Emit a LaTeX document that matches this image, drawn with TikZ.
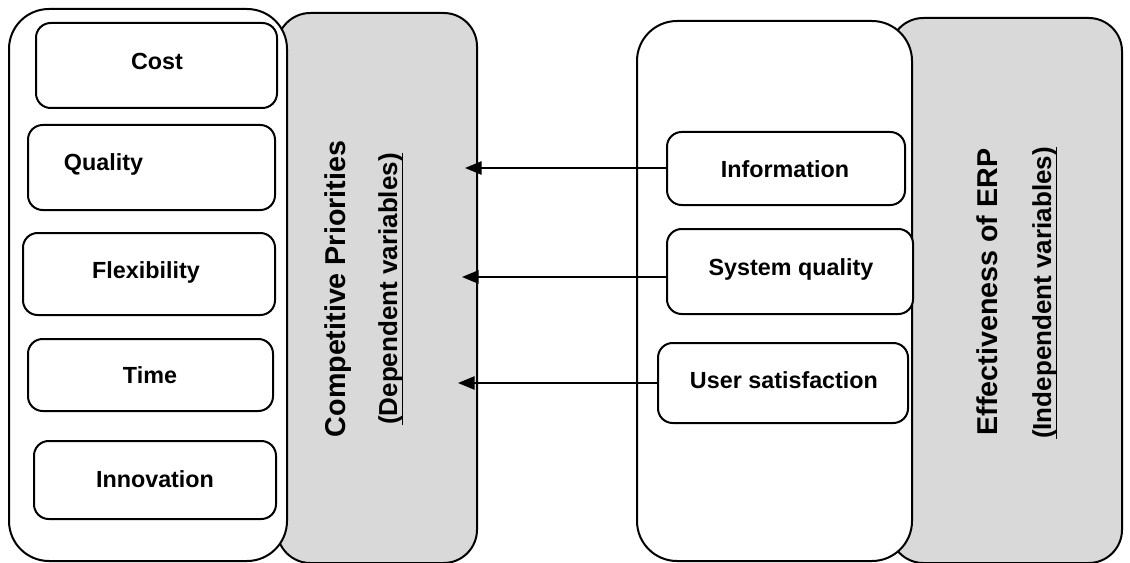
\documentclass[tikz,border=0pt]{standalone}
\usepackage{fontspec}
\setmainfont{Liberation Sans}
\usetikzlibrary{positioning, arrows.meta}
\definecolor{panelgray}{RGB}{217,217,217}

\begin{document}
\begin{tikzpicture}[x=0.75pt, y=-0.75pt,
  panel/.style={draw, line width=1.5pt, rounded corners=30pt, inner sep=0pt},
  item/.style={draw, fill=white, line width=1.5pt, rounded corners=11pt, inner sep=0pt},
  txt/.style={font=\fontsize{17.5}{20}\selectfont\bfseries, anchor=base, inner sep=0pt},
  head/.style={font=\fontsize{21.5}{25}\selectfont\bfseries, rotate=90, anchor=base, inner sep=0pt},
  subhead/.style={font=\fontsize{19.5}{23}\selectfont\bfseries, rotate=90, anchor=base, inner sep=0pt, outer sep=0pt},
  flow/.style={-{Triangle[length=12.5pt, width=10pt]}, line width=1.3pt}]

\useasboundingbox (0,0) rectangle (1130,563);

% grey panels sit behind the white ones
\node[panel, fill=panelgray, rounded corners=25pt, minimum width=150pt, minimum height=412.5pt] (depgray) at (377,288) {};
\node[panel, fill=panelgray, rounded corners=25pt, minimum width=174pt, minimum height=408.75pt] (indgray) at (1006,290.5) {};
\node[panel, fill=white, minimum width=208.5pt, minimum height=414pt] (deppanel) at (148,285) {};
\node[panel, fill=white, minimum width=206.25pt, minimum height=405pt] (indpanel) at (774.5,291) {};

% dependent variables
\node[item, minimum width=180.75pt, minimum height=63.75pt] (cost) at (156.5,65.5) {};
\node[item, minimum width=185.25pt, minimum height=63.75pt] (quality) at (151.5,167.5) {};
\node[item, minimum width=189pt, minimum height=61.5pt] (flex) at (149,274) {};
\node[item, minimum width=183.75pt, minimum height=54pt] (time) at (150.5,375) {};
\node[item, minimum width=181.5pt, minimum height=58.5pt] (innov) at (155,480) {};

\node[txt] (costtxt) at (157,70) {Cost};
\node[txt] (qualitytxt) at (103.5,171) {Quality};
\node[txt] (flextxt) at (146,278) {Flexibility};
\node[txt] (timetxt) at (150,383) {Time};
\node[txt] (innovtxt) at (155,487) {Innovation};

% independent variables
\node[item, minimum width=178.5pt, minimum height=54.75pt] (info) at (786,168.5) {};
\node[item, minimum width=184.5pt, minimum height=63.75pt] (sysq) at (790,271.5) {};
\node[item, minimum width=187.5pt, minimum height=60pt] (usersat) at (783,383) {};

\node[txt] (infotxt) at (785,177) {Information};
\node[txt] (sysqtxt) at (791,275) {System quality};
\node[txt] (usersattxt) at (784,388) {User satisfaction};

% panel titles
\node[head] (dephead) at (345,289) {Competitive Priorities};
\node[subhead] (depsub) at (397,289) {(Dependent variables)};
\draw[line width=1.1pt] (depsub.south west) -- (depsub.south east);
\node[head] (indhead) at (997,292) {Effectiveness of ERP};
\node[subhead] (indsub) at (1051,293) {(Independent variables)};
\draw[line width=1.1pt] (indsub.south west) -- (indsub.south east);

% arrows
\coordinate (infotip) at (465,168);
\coordinate (sysqtip) at (462,277);
\coordinate (usersattip) at (458,383);
\draw[flow] (info.west |- infotip) -- (infotip);
\draw[flow] (sysq.west |- sysqtip) -- (sysqtip);
\draw[flow] (usersat.west |- usersattip) -- (usersattip);

\end{tikzpicture}
\end{document}
